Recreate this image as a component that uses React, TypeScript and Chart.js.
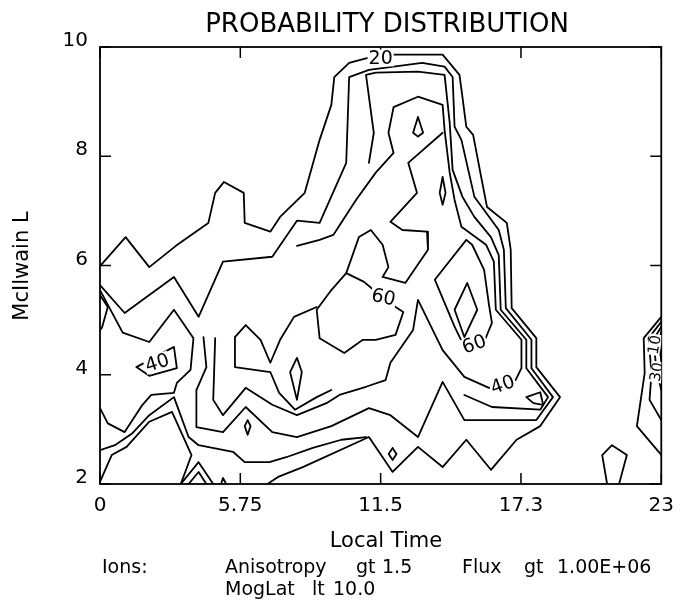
import { useEffect, useRef } from "react";
import { Chart, registerables } from "chart.js";

Chart.register(...registerables);

// ---------- axis ticks ----------
const xTickValues = [0, 5.75, 11.5, 17.25, 23];
const xTickLabels = ["0", "5.75", "11.5", "17.3", "23"];
const yTickValues = [2, 4, 6, 8, 10];

// ---------- contour lines (Local Time, McIlwain L) ----------
const contour20 = [
  [0.0, 5.99], [1.05, 6.52], [2.02, 5.97], [3.11, 6.36], [4.44, 6.78], [4.72, 7.33], [5.08, 7.53],
  [5.89, 7.33], [5.93, 6.78], [6.98, 6.62], [7.38, 6.89], [8.39, 7.33], [9.0, 8.3], [9.48, 8.94],
  [9.6, 9.45], [10.21, 9.71], [10.98, 9.8], [12.03, 9.86], [14.04, 9.86], [14.73, 9.49], [14.85, 9.09],
  [15.01, 8.54], [15.29, 8.39], [15.62, 7.62], [15.86, 7.07], [16.67, 6.78], [16.83, 6.29], [16.87, 5.22],
  [17.88, 4.67], [17.88, 4.14], [18.85, 3.59], [18.04, 3.06], [17.07, 2.81], [16.02, 2.26], [15.01, 2.81],
  [14.04, 2.31], [13.03, 2.68], [11.99, 2.22], [11.02, 2.86], [8.31, 2.31], [7.3, 2.13], [6.86, 2.0],
];
const contour30 = [
  [0.0, 5.64], [1.01, 5.13], [3.03, 5.79], [4.04, 5.06], [5.04, 6.07], [7.06, 6.16], [8.07, 6.82],
  [9.0, 6.78], [10.09, 7.88], [10.21, 9.45], [11.02, 9.58], [13.2, 9.71], [14.12, 9.64], [14.45, 9.45],
  [14.53, 8.54], [14.81, 8.3], [15.34, 7.26], [16.34, 6.65], [16.55, 6.29], [16.63, 5.22], [17.68, 4.64],
  [17.68, 4.12], [18.56, 3.59], [17.88, 3.17], [14.93, 3.17], [14.04, 3.87], [13.03, 2.86], [11.9, 3.26],
  [11.02, 3.39], [9.48, 3.06], [8.07, 2.86], [7.06, 2.95], [5.97, 3.41], [5.04, 2.95], [3.95, 3.04],
  [3.95, 3.72], [4.36, 4.14], [4.24, 4.69],
];
const bundle3 = [
  [11.02, 7.88], [11.22, 8.43], [10.9, 9.49], [11.3, 9.53], [13.03, 9.55], [14.12, 9.49], [14.33, 8.61],
  [14.45, 7.75], [14.85, 7.26], [15.34, 6.89], [16.02, 6.52], [16.34, 6.19], [16.42, 5.19], [17.47, 4.64],
  [17.47, 4.12], [18.36, 3.59], [18.04, 3.36], [16.06, 3.41], [14.93, 3.63],
];
const contour40Core = [
  [4.72, 4.67], [4.64, 3.54], [5.04, 3.26], [5.97, 3.76], [7.06, 3.45], [8.07, 3.26], [9.28, 3.48],
  [9.81, 3.63], [10.9, 3.78], [11.7, 3.9], [11.9, 4.22], [12.83, 4.82], [13.03, 5.37], [14.04, 4.45],
  [14.93, 3.96], [15.94, 3.76], [17.03, 3.9], [17.27, 4.12], [17.27, 4.64], [16.22, 5.19], [16.14, 6.07],
  [15.82, 6.38], [14.81, 6.71], [14.53, 7.2], [14.33, 7.7], [14.12, 8.48], [14.04, 8.94], [13.03, 9.09],
  [12.03, 8.9], [11.82, 8.43], [12.03, 8.06], [11.3, 7.7], [10.49, 7.2], [9.56, 6.56], [9.0, 6.47], [8.07, 6.36],
];
const loop60Right = [
  [15.74, 4.6], [16.06, 4.95], [15.94, 5.28], [15.74, 5.92], [15.25, 6.38], [15.01, 6.47], [13.72, 5.74],
  [14.53, 4.88], [14.93, 4.51], [15.74, 4.6],
];
const ridge60 = [
  [14.04, 8.43], [12.63, 7.88], [12.99, 7.33], [11.9, 6.8], [12.39, 6.65], [13.4, 6.62], [13.44, 6.29],
  [12.51, 5.68], [11.58, 5.79], [11.82, 5.97], [11.58, 6.38], [11.1, 6.65], [10.61, 6.52], [10.09, 5.86],
];
const loop60 = [
  [10.09, 5.86], [10.82, 5.7], [11.3, 5.52], [12.11, 5.24], [12.43, 5.15], [12.11, 4.73], [11.3, 4.64],
  [10.77, 4.64], [10.01, 4.4], [9.0, 4.67], [8.88, 5.19], [9.48, 5.55], [10.09, 5.86],
];
const inner50Upper = [[5.53, 4.69], [5.97, 4.91], [6.58, 4.64], [6.98, 4.22], [7.38, 4.64], [7.95, 5.06], [8.88, 5.24]];
const inner50Lower = [[5.53, 4.69], [5.53, 4.14], [6.98, 4.05], [7.34, 3.67], [7.99, 3.36], [8.88, 3.59], [9.48, 3.72]];
const contour40Left = [
  [0.0, 5.55], [0.93, 4.77], [2.02, 4.6], [3.03, 5.19], [3.83, 4.67], [3.71, 4.09], [3.15, 3.85],
  [3.03, 3.67], [2.1, 3.63], [1.74, 3.45], [1.01, 2.95], [0.32, 3.11], [0.0, 3.39],
];
const labelBox40 = [[1.49, 4.14], [3.03, 4.51], [3.15, 4.12], [2.02, 3.98], [1.49, 4.14]];
const leftSpike = [[0.0, 5.46], [0.32, 5.24], [0.08, 4.86], [0.0, 4.82]];
const bottomLeftUpper = [
  [0.0, 2.62], [0.61, 2.71], [1.33, 2.93], [2.02, 3.26], [3.03, 3.59], [3.63, 2.86], [4.04, 2.71],
  [5.45, 2.59], [5.93, 2.4], [6.94, 2.4], [7.63, 2.49], [8.72, 2.66], [9.89, 2.81], [10.9, 2.86],
];
const bottomLeftLower = [[0.0, 2.04], [0.48, 2.53], [1.09, 2.68], [2.02, 3.14], [2.95, 3.32], [3.75, 2.53], [3.31, 2.0]];
const triangleOuter = [[3.31, 2.0], [4.04, 2.4], [4.64, 2.0]];
const triangleInner = [[3.63, 2.0], [4.04, 2.22], [4.36, 2.0]];
const smallBump = [[4.96, 2.0], [5.04, 2.11], [5.17, 2.0]];
const ovalA = [[6.05, 3.17], [6.17, 3.06], [6.05, 2.9], [5.93, 3.06], [6.05, 3.17]];
const ovalB = [[11.99, 2.66], [12.15, 2.55], [11.99, 2.44], [11.83, 2.55], [11.99, 2.66]];
const diamondA = [[8.07, 4.31], [8.27, 4.05], [8.07, 3.54], [7.79, 4.05], [8.07, 4.31]];
const teardrop = [[13.03, 8.72], [13.24, 8.43], [13.03, 8.36], [12.83, 8.43], [13.03, 8.72]];
const diamondB = [[14.04, 7.62], [14.16, 7.33], [14.04, 7.11], [13.92, 7.33], [14.04, 7.62]];
const diamondC = [[15.05, 5.68], [15.46, 5.19], [14.93, 4.69], [14.53, 5.19], [15.05, 5.68]];
const diamondD = [[17.47, 3.59], [18.04, 3.68], [18.16, 3.45], [17.76, 3.48], [17.47, 3.59]];
const rightEdge1 = [[23.0, 5.06], [22.28, 4.67], [22.32, 4.03], [22.0, 3.06], [22.93, 2.57], [23.0, 2.53]];
const rightEdge2 = [[23.0, 4.97], [22.48, 4.67], [22.6, 4.03], [22.52, 3.54], [23.0, 3.17]];
const rightEdge3 = [[23.0, 4.88], [22.68, 4.64], [22.8, 4.09], [23.0, 3.72]];
const rightEdge4 = [[23.0, 4.78], [22.88, 4.6], [23.0, 4.27]];
const pentagon = [[20.78, 2.0], [20.58, 2.53], [20.98, 2.71], [21.59, 2.53], [21.27, 2.0]];

const contourLines = [
  contour20, contour30, bundle3, contour40Core, loop60Right, ridge60, loop60, inner50Upper, inner50Lower,
  contour40Left, labelBox40, leftSpike, bottomLeftUpper, bottomLeftLower, triangleOuter, triangleInner,
  smallBump, ovalA, ovalB, diamondA, teardrop, diamondB, diamondC, diamondD,
  rightEdge1, rightEdge2, rightEdge3, rightEdge4, pentagon,
];

// ---------- contour labels ----------
const labelTexts = ["20", "40", "60", "60", "40", "10", "30"];
const labelX = [11.5, 2.34, 11.62, 15.33, 16.5, 22.72, 22.8];
const labelY = [9.8, 4.22, 5.42, 4.56, 3.82, 4.55, 4.05];
const labelAngle = [0, -18, 12, -20, -20, -80, -80];
const labelSize = [19, 19, 19, 19, 19, 15, 15];

// ---------- texts ----------
const titleText = "PROBABILITY DISTRIBUTION";
const xTitle = "Local Time";
const yTitle = "McIlwain L";
const noteRow1 = ["Ions:", "Anisotropy", "gt", "1.5", "Flux", "gt", "1.00E+06"];
const noteRow1X = [102, 225, 356, 382, 462, 524, 557];
const noteRow2 = ["MogLat", "lt", "10.0"];
const noteRow2X = [225, 312, 333];

const FONT = "'DejaVu Sans', 'Liberation Sans', sans-serif";

export default function App() {
  const ref = useRef<HTMLCanvasElement | null>(null);

  useEffect(() => {
    const canvas = ref.current;
    if (!canvas) return;

    const framePlugin = {
      id: "frameTicks",
      afterDraw(chart: any) {
        const { ctx, chartArea } = chart;
        const xs = chart.scales.x;
        const ys = chart.scales.y;
        ctx.save();
        ctx.strokeStyle = "#000";
        ctx.lineWidth = 1.8;
        ctx.strokeRect(chartArea.left, chartArea.top, chartArea.right - chartArea.left, chartArea.bottom - chartArea.top);
        ctx.lineWidth = 1.5;
        const len = 11;
        xTickValues.forEach((v) => {
          const px = xs.getPixelForValue(v);
          ctx.beginPath();
          ctx.moveTo(px, chartArea.bottom);
          ctx.lineTo(px, chartArea.bottom - len);
          ctx.moveTo(px, chartArea.top);
          ctx.lineTo(px, chartArea.top + len);
          ctx.stroke();
        });
        yTickValues.forEach((v) => {
          const py = ys.getPixelForValue(v);
          ctx.beginPath();
          ctx.moveTo(chartArea.left, py);
          ctx.lineTo(chartArea.left + len, py);
          ctx.moveTo(chartArea.right, py);
          ctx.lineTo(chartArea.right - len, py);
          ctx.stroke();
        });

        // contour labels
        ctx.save();
        ctx.beginPath();
        ctx.rect(chartArea.left, chartArea.top, chartArea.right - chartArea.left, chartArea.bottom - chartArea.top);
        ctx.clip();
        ctx.textAlign = "center";
        ctx.textBaseline = "middle";
        labelTexts.forEach((t, i) => {
          const px = xs.getPixelForValue(labelX[i]);
          const py = ys.getPixelForValue(labelY[i]);
          ctx.save();
          ctx.font = `${labelSize[i]}px ${FONT}`;
          ctx.translate(px, py);
          ctx.rotate((labelAngle[i] * Math.PI) / 180);
          const w = ctx.measureText(t).width;
          ctx.fillStyle = "#fff";
          ctx.fillRect(-w / 2 - 1, -labelSize[i] / 2 + 1, w + 2, labelSize[i] - 2);
          ctx.fillStyle = "#000";
          ctx.fillText(t, 0, 1);
          ctx.restore();
        });
        ctx.restore();

        // title
        ctx.fillStyle = "#000";
        ctx.textBaseline = "alphabetic";
        ctx.textAlign = "center";
        ctx.font = `26px ${FONT}`;
        ctx.fillText(titleText, 387, 32);

        // axis titles
        ctx.font = `21px ${FONT}`;
        ctx.textBaseline = "middle";
        ctx.fillText(xTitle, 386, 542);
        ctx.save();
        ctx.translate(23, 266);
        ctx.rotate(-Math.PI / 2);
        ctx.fillText(yTitle, 0, 0);
        ctx.restore();

        // notes
        ctx.textAlign = "left";
        ctx.font = `19px ${FONT}`;
        noteRow1.forEach((t, i) => ctx.fillText(t, noteRow1X[i], 568));
        noteRow2.forEach((t, i) => ctx.fillText(t, noteRow2X[i], 590));
        ctx.restore();
      },
    };

    const chart = new Chart(canvas, {
      type: "scatter",
      data: {
        datasets: contourLines.map((line) => ({
          data: line.map(([x, y]) => ({ x, y })),
          showLine: true,
          borderColor: "#000",
          backgroundColor: "#000",
          borderWidth: 1.8,
          borderJoinStyle: "round" as const,
          borderCapStyle: "round" as const,
          pointRadius: 0,
          pointHoverRadius: 0,
          fill: false,
          tension: 0,
        })),
      },
      options: {
        responsive: false,
        animation: false,
        devicePixelRatio: 1,
        events: [],
        layout: { padding: { top: 47, right: 14, left: 0, bottom: 0 } },
        plugins: { legend: { display: false }, title: { display: false }, tooltip: { enabled: false } },
        scales: {
          x: {
            type: "linear",
            min: 0,
            max: 23,
            afterBuildTicks: (s: any) => {
              s.ticks = xTickValues.map((v) => ({ value: v }));
            },
            afterFit: (s: any) => {
              s.height = 120;
            },
            ticks: {
              autoSkip: false,
              maxRotation: 0,
              padding: 10,
              color: "#000",
              font: { family: FONT, size: 20 },
              callback: (v: any) => {
                const i = xTickValues.indexOf(Number(v));
                return i >= 0 ? xTickLabels[i] : "";
              },
            },
            grid: { display: false, drawTicks: false },
            border: { display: false },
          },
          y: {
            type: "linear",
            min: 2,
            max: 10,
            afterBuildTicks: (s: any) => {
              s.ticks = yTickValues.map((v) => ({ value: v }));
            },
            afterFit: (s: any) => {
              s.width = 100;
            },
            ticks: {
              padding: 12,
              labelOffset: -6,
              color: "#000",
              font: { family: FONT, size: 20 },
            },
            grid: { display: false, drawTicks: false },
            border: { display: false },
          },
        },
      },
      plugins: [framePlugin],
    });
    return () => chart.destroy();
  }, []);

  return (
    <div style={{ position: "absolute", left: 0, top: 0, width: 684, height: 604, background: "#fff" }}>
      <canvas ref={ref} width={684} height={604} style={{ display: "block" }} />
    </div>
  );
}
